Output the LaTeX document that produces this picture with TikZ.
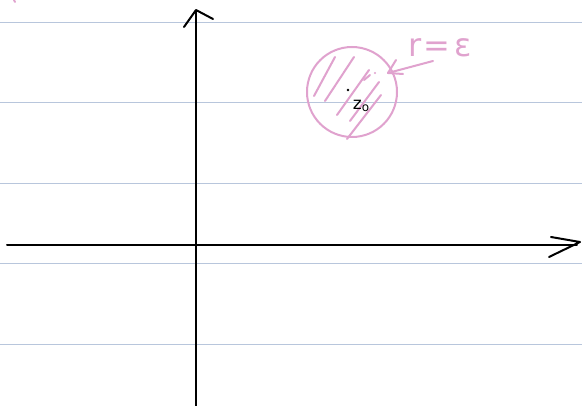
\documentclass[tikz,border=0pt]{standalone}
\usepackage{fontspec}
\setmainfont{DejaVu Sans}
\begin{document}
\begin{tikzpicture}[x=1pt,y=-1pt,
  ruled/.style={draw=rulecol,line width=1pt},
  ink/.style={draw=black,line width=2pt,line cap=round,line join=round},
  pinkink/.style={draw=pinkcol,line width=2pt,line cap=round,line join=round}]
\definecolor{rulecol}{HTML}{B8C6DC}
\definecolor{pinkcol}{HTML}{E0A2CE}
\useasboundingbox[fill=white] (0,0) rectangle (582,406);
% ruled lines
\foreach \y in {23,103,184,264,345}{\draw[ruled] (0,\y) -- (582,\y);}
% tiny pink mark top-left
\draw[pinkink] (14,0) -- (15,2);
% axes
\draw[ink] (196,406) -- (196,11);
\draw[ink] (184,27) -- (196,10) -- (213,19);
\draw[ink] (7,245) -- (577,245);
\draw[ink] (551,237) -- (580,242) -- (549,257);
% disc
\node[circle,draw=pinkcol,line width=2pt,minimum size=90pt,inner sep=0pt] (disc) at (352,92) {};
\draw[pinkink] (314,96) -- (335,57);
\draw[pinkink] (325,101) -- (354,57);
\draw[pinkink] (337,115) -- (369,70);
\draw[pinkink] (350,121) -- (379,82);
\draw[pinkink] (347,139) -- (381,95);
\draw[pinkink] (364,80) -- (370,75);
\fill[pinkcol] (375,73) circle (1.2);
% centre point and label
\fill (348,90) circle (1.4);
\node[font=\fontsize{17}{17}\selectfont,inner sep=0pt] (z0) at (361,106) {z\raisebox{-2pt}{\fontsize{12}{12}\selectfont o}};
% radius label with arrow
\node[text=pinkcol,font=\fontsize{32}{32}\selectfont,inner sep=0pt,anchor=west] (rlab) at (408,48) {r\kern2pt=\kern4ptε};
\coordinate (tail) at (433,61);
\coordinate (tip) at (388,73);
\draw[pinkink] (tail) -- (tip);
\draw[pinkink] (396,60) -- (tip) -- (403,74);
\end{tikzpicture}
\end{document}
